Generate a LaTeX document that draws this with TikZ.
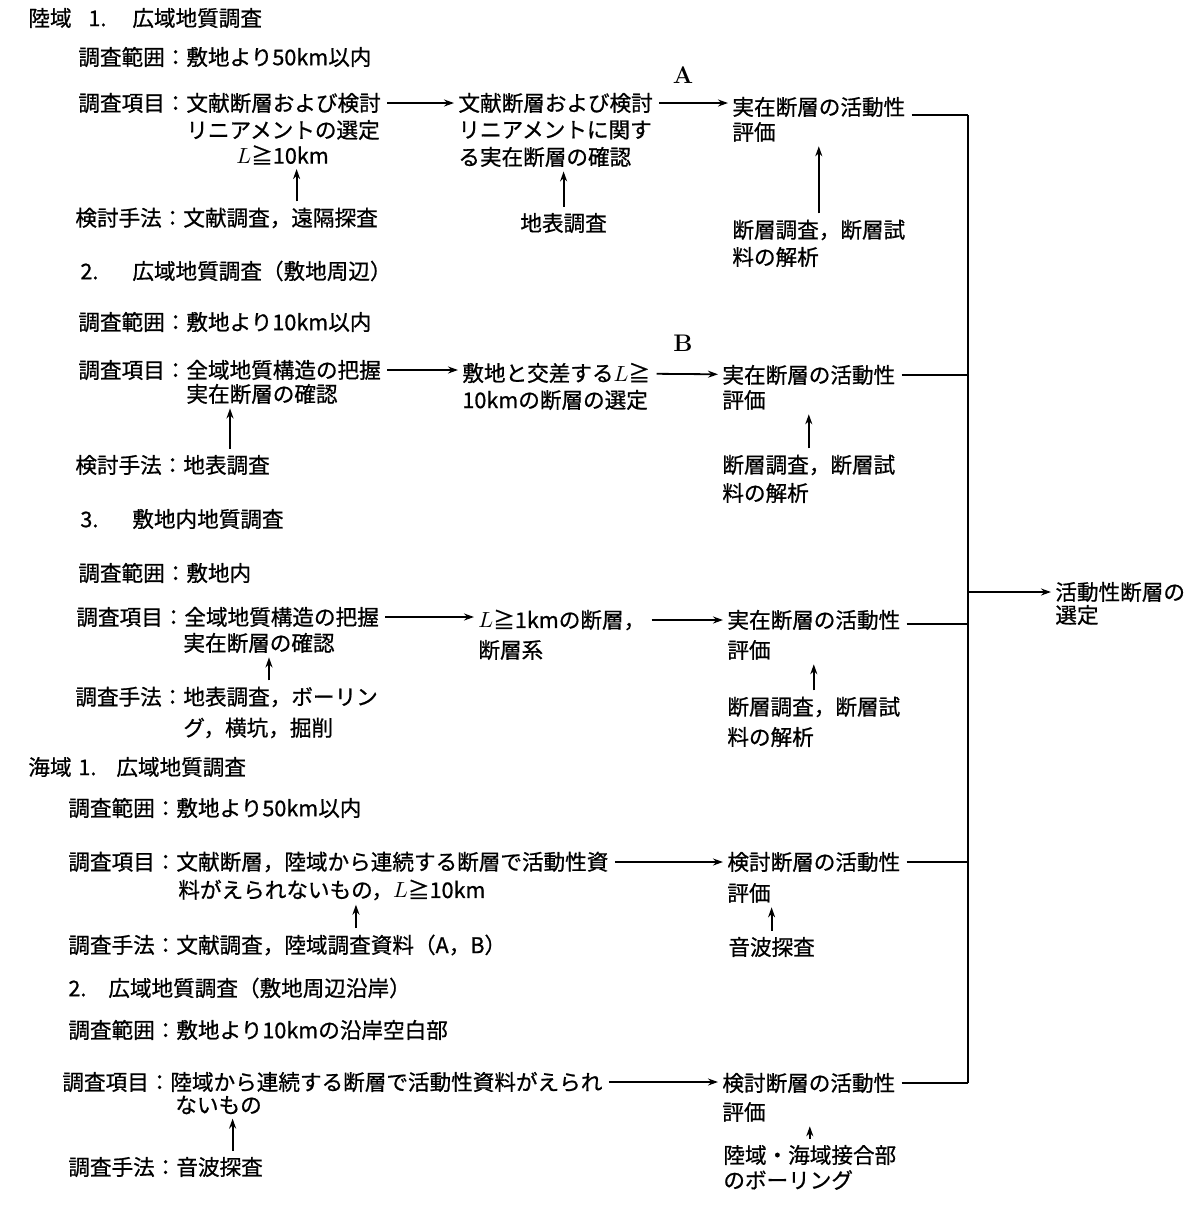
\documentclass[tikz,border=0pt]{standalone}
\usepackage{fontspec}
\newfontfamily\jp[FakeBold=0.8]{Noto Sans CJK JP}
\usetikzlibrary{arrows.meta,positioning}

\begin{document}
\begin{tikzpicture}[x=0.5pt, y=-0.5pt,
    txt/.style={anchor=west, inner sep=0pt, font=\jp\fontsize{10.8pt}{13pt}\selectfont},
    letter/.style={inner sep=0pt, font=\bfseries\large},
    arr/.style={-{Stealth[length=5pt,width=3.5pt]}, line width=0.9pt, black, shorten >=2pt, shorten <=3pt},
    ln/.style={line width=0.9pt, black, shorten <=3pt},
]
\useasboundingbox (0,0) rectangle (1197,1206);

% Land 1
\node[txt] (lhead) at (28,18) {陸域};
\node[txt] (l1head) at (88,18) {\makebox[22pt][l]{1.}広域地質調査};
\node[txt] (l1range) at (78,57) {調査範囲：敷地より50km以内};
\node[txt] (l1item) at (78,103) {調査項目：文献断層および検討};
\node[txt] (l1itemb) at (186,130) {リニアメントの選定};
\node[txt] (l1itemc) at (236,155) {$L$≧10km};
\node[txt] (l1meth) at (75,218) {検討手法：文献調査，遠隔探査};
\node[letter] (markA) at (683,75) {A};
\node[txt] (l1sel) at (458,103) {文献断層および検討};
\node[txt] (l1selb) at (458,130) {リニアメントに関す};
\node[txt] (l1selc) at (458,157) {る実在断層の確認};
\node[txt] (l1surv) at (520,223) {地表調査};
\node[txt] (l1eval) at (732,107) {実在断層の活動性};
\node[txt] (l1evalb) at (732,132) {評価};
\node[txt] (l1fault) at (732,230) {断層調査，断層試};
\node[txt] (l1faultb) at (732,257) {料の解析};

% Land 2
\node[txt] (l2head) at (80,271) {\makebox[26pt][l]{2.}広域地質調査（敷地周辺）};
\node[txt] (l2range) at (78,322) {調査範囲：敷地より10km以内};
\node[txt] (l2item) at (78,370) {調査項目：全域地質構造の把握};
\node[txt] (l2itemb) at (186,394) {実在断層の確認};
\node[txt] (l2meth) at (75,465) {検討手法：地表調査};
\node[letter] (markB) at (683,343) {B};
\node[txt] (l2sel) at (462,373) {敷地と交差する$L$≧};
\node[txt] (l2selb) at (462,400) {10kmの断層の選定};
\node[txt] (l2eval) at (722,375) {実在断層の活動性};
\node[txt] (l2evalb) at (722,400) {評価};
\node[txt] (l2fault) at (722,465) {断層調査，断層試};
\node[txt] (l2faultb) at (722,493) {料の解析};

% Land 3
\node[txt] (l3head) at (80,519) {\makebox[26pt][l]{3.}敷地内地質調査};
\node[txt] (l3range) at (78,573) {調査範囲：敷地内};
\node[txt] (l3item) at (76,617) {調査項目：全域地質構造の把握};
\node[txt] (l3itemb) at (183,643) {実在断層の確認};
\node[txt] (l3meth) at (75,697) {調査手法：地表調査，ボーリン};
\node[txt] (l3methb) at (183,728) {グ，横坑，掘削};
\node[txt] (l3sel) at (478,620) {$L$≧1kmの断層，};
\node[txt] (l3selb) at (478,650) {断層系};
\node[txt] (l3eval) at (727,620) {実在断層の活動性};
\node[txt] (l3evalb) at (727,650) {評価};
\node[txt] (l3fault) at (727,707) {断層調査，断層試};
\node[txt] (l3faultb) at (727,737) {料の解析};

% Sea 1
\node[txt] (shead) at (28,767) {海域};
\node[txt] (s1head) at (78,767) {\makebox[19pt][l]{1.}広域地質調査};
\node[txt] (s1range) at (68,808) {調査範囲：敷地より50km以内};
\node[txt] (s1item) at (68,862) {調査項目：文献断層，陸域から連続する断層で活動性資};
\node[txt] (s1itemb) at (178,890) {料がえられないもの，$L$≧10km};
\node[txt] (s1meth) at (68,945) {調査手法：文献調査，陸域調査資料（A，B）};
\node[txt] (s1eval) at (727,862) {検討断層の活動性};
\node[txt] (s1evalb) at (727,893) {評価};
\node[txt] (s1sonar) at (728,947) {音波探査};

% Sea 2
\node[txt] (s2head) at (68,988) {\makebox[20pt][l]{2.}広域地質調査（敷地周辺沿岸）};
\node[txt] (s2range) at (68,1030) {調査範囲：敷地より10kmの沿岸空白部};
\node[txt] (s2item) at (62,1082) {調査項目：陸域から連続する断層で活動性資料がえられ};
\node[txt] (s2itemb) at (175,1105) {ないもの};
\node[txt] (s2meth) at (68,1167) {調査手法：音波探査};
\node[txt] (s2eval) at (722,1083) {検討断層の活動性};
\node[txt] (s2evalb) at (722,1112) {評価};
\node[txt] (s2bore) at (723,1155) {陸域・海域接合部};
\node[txt] (s2boreb) at (723,1180) {のボーリング};

% Output
\coordinate (bus) at (968,0);
\node[txt] (out) at (1055,592) {活動性断層の};
\node[txt] (outb) at (1055,615) {選定};

% Arrows
\draw[arr] (l1item) -- (l1sel);
\draw[arr] (l1sel) -- (l1eval.west |- l1sel);
\draw[arr] ([xshift=7pt]l1itemc.south |- l1meth.north) -- ([xshift=7pt]l1itemc.south);
\draw[arr] (l1surv.north) -- (l1surv.north |- l1selc.south);
\draw[arr] (l1fault.north) -- (l1fault.north |- l1evalb.south);

\draw[arr] (l2item) -- (l2item.east -| l2sel.west);
\draw[arr] (l2sel) -- (l2eval);
\draw[arr] ([xshift=-16pt]l2itemb.south |- l2meth.north) -- ([xshift=-16pt]l2itemb.south);
\draw[arr] (l2fault.north) -- (l2fault.north |- l2evalb.south);

\draw[arr] (l3item) -- (l3item.east -| l3sel.west);
\draw[arr] (l3sel) -- (l3eval);
\draw[arr] ([xshift=5pt]l3itemb.south |- l3meth.north) -- ([xshift=5pt]l3itemb.south);
\draw[arr] (l3fault.north) -- (l3fault.north |- l3evalb.south);

\draw[arr] (s1item) -- (s1item.east -| s1eval.west);
\draw[arr] ([xshift=12pt]s1itemb.south |- s1meth.north) -- ([xshift=12pt]s1itemb.south);
\draw[arr] (s1sonar.north) -- (s1sonar.north |- s1evalb.south);

\draw[arr] (s2item) -- (s2item.east -| s2eval.west);
\draw[arr] ([xshift=7pt]s2itemb.south |- s2meth.north) -- ([xshift=7pt]s2itemb.south);
\draw[arr] (s2bore.north) -- (s2bore.north |- s2evalb.south);

% Bus
\draw[ln] ([yshift=-4pt]l1eval.east) -- ([yshift=-4pt]l1eval.east -| bus);
\draw[ln] (l2eval.east) -- (l2eval.east -| bus);
\draw[ln] ([yshift=-2pt]l3eval.east) -- ([yshift=-2pt]l3eval.east -| bus);
\draw[ln] (s1eval.east) -- (s1eval.east -| bus);
\draw[ln] (s2eval.east) -- (s2eval.east -| bus);
\draw[line width=1.3pt] ([yshift=-4pt]l1eval.east -| bus) -- (s2eval.east -| bus);
\draw[arr, shorten <=0pt] (out.west -| bus) -- (out.west);
\end{tikzpicture}
\end{document}
